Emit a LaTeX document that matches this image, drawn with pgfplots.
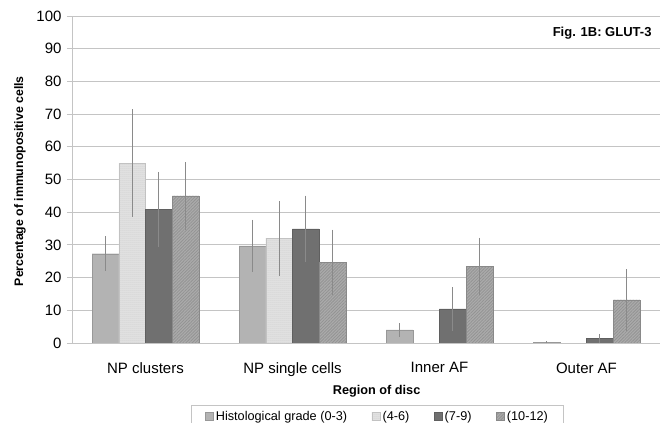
\documentclass[border=0pt]{standalone}
\usepackage{pgfplots}
\pgfplotsset{compat=1.18}
\usepackage{fontspec}
\setmainfont{Liberation Sans}
\usetikzlibrary{patterns.meta}

\definecolor{gA}{HTML}{B3B3B3}
\definecolor{gB}{HTML}{E4E4E4}
\definecolor{gC}{HTML}{707070}
\definecolor{gD}{HTML}{ABABAB}
\definecolor{gridc}{HTML}{C4C4C4}
\definecolor{errc}{HTML}{8A8A8A}

\begin{document}
\begin{tikzpicture}
\begin{axis}[
  scale only axis,
  width=588pt, height=327pt,
  ybar=0pt, bar width=26.7pt,
  xmin=-0.5, xmax=3.5,
  ymin=0, ymax=100,
  ytick={0,10,...,100},
  xtick={0,1,2,3},
  xticklabels={NP clusters, NP single cells, Inner AF, Outer AF},
  extra x ticks={-0.5,0.5,1.5,2.5,3.5},
  extra x tick labels={},
  extra x tick style={major tick length=5pt, tick style={draw=gridc, line width=0.8pt}, grid=none},
  major x tick style={draw=none},
  axis x line*=bottom, axis y line*=left,
  axis line style={draw=gridc, line width=0.8pt},
  tick align=outside, major tick length=5pt,
  y tick style={draw=gridc, line width=0.8pt},
  ymajorgrids, grid style={draw=gridc, line width=0.8pt},
  /pgf/number format/assume math mode=true,
  ticklabel style={font=\fontsize{15}{18}\selectfont},
  yticklabel style={xshift=-2pt},
  xticklabel style={yshift=-11pt},
  xlabel={Region of disc},
  xlabel style={font=\fontsize{12.7}{14}\bfseries, at={(axis description cs:0.518,-0.1468)}, anchor=center},
  ylabel={Percentage of immunopositive cells},
  ylabel style={font=\fontsize{12.3}{14}\bfseries, at={(axis description cs:-0.0884,0.495)}, anchor=center},
  legend columns=4,
  legend style={at={(axis description cs:0.519,-0.1896)}, anchor=north,
    draw=gridc, line width=0.8pt, font=\fontsize{12.7}{14}\selectfont,
    nodes={inner sep=1.5pt},
    /tikz/every even column/.append style={column sep=23pt},
    /tikz/every odd column/.append style={column sep=1pt},
    inner ysep=4pt, inner xsep=14pt},
  legend image code/.code={\draw[#1, draw opacity=1, line width=0.4pt] (0pt,-4pt) rectangle (8pt,4pt);},
  error bars/y dir=both, error bars/y explicit,
  error bars/error mark=none,
  error bars/error bar style={draw=errc, line width=0.7pt},
]
\addplot+[fill=gA, draw=gA!85!black] coordinates {
  (0,27.3) +- (0,5.4)
  (1,29.7) +- (0,8.0)
  (2,4.0)  +- (0,2.1)
  (3,0.2)  +- (0,0.3)
};
\addlegendentry{Histological grade (0-3)}
\addplot+[fill=gB, draw=gB!85!black,
  postaction={pattern={Dots[distance=2pt, radius=0.5pt]}, pattern color=gray!55}] coordinates {
  (0,55.0) +- (0,16.6)
  (1,32.0) +- (0,11.5)
};
\addlegendentry{(4-6)}
\addplot+[fill=gC, draw=gC!85!black] coordinates {
  (0,40.9) +- (0,11.4)
  (1,34.9) +- (0,10.2)
  (2,10.4) +- (0,6.6)
  (3,1.4)  +- (0,1.3)
};
\addlegendentry{(7-9)}
\addplot+[fill=gD, draw=gD!80!black,
  postaction={pattern={Lines[angle=45, distance=2.2pt, line width=0.8pt]}, pattern color=gray!85}] coordinates {
  (0,45.0) +- (0,10.3)
  (1,24.7) +- (0,10.0)
  (2,23.4) +- (0,8.8)
  (3,13.2) +- (0,9.4)
};
\addlegendentry{(10-12)}
\node[anchor=east, font=\fontsize{13}{15}\bfseries] at (rel axis cs:0.9915,0.948) {Fig. 1B: GLUT-3};
\end{axis}
\pgfresetboundingbox
\path[use as bounding box] (-72pt,-80pt) rectangle (593pt,343pt);
\end{tikzpicture}
\end{document}
